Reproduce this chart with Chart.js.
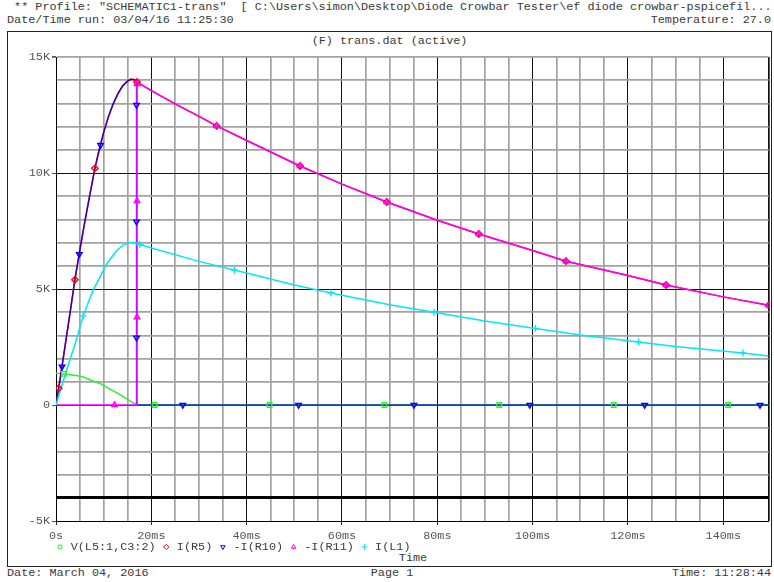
<!DOCTYPE html>
<html>
<head>
<meta charset="utf-8">
<script src="https://cdn.jsdelivr.net/npm/chart.js@4.4.0/dist/chart.umd.min.js"></script>
<style>
  html, body { margin: 0; padding: 0; background: #fff; }
  body { width: 774px; height: 582px; position: relative; overflow: hidden;
         font-family: 'Liberation Mono', 'Courier New', monospace; font-size: 11.8px; color: #3a3a3a; }
  .t { position: absolute; line-height: 13px; white-space: pre; }
  #frame { position: absolute; left: 7px; top: 31px; width: 763px; height: 534px; border: 1px solid #222; }
  #plot { position: absolute; left: 0; top: 0; }
</style>
</head>
<body>
<div class="t" style="left:7px;top:1px"> ** Profile: "SCHEMATIC1-trans"  [ C:\Users\simon\Desktop\Diode Crowbar Tester\ef diode crowbar-pspicefil...</div>
<div class="t" style="left:7px;top:14px">Date/Time run: 03/04/16 11:25:30</div>
<div class="t" style="right:3px;top:14px">Temperature: 27.0</div>
<div id="frame"></div>
<div class="t" style="left:7px;width:765px;top:35px;text-align:center">(F) trans.dat (active)</div>
<div class="t" style="left:56px;width:714px;top:552px;text-align:center">Time</div>
<div class="t" style="left:7px;top:567px">Date: March 04, 2016</div>
<div class="t" style="left:350px;width:84px;top:567px;text-align:center">Page 1</div>
<div class="t" style="right:3px;top:567px">Time: 11:28:44</div>
<canvas id="plot" width="774" height="582"></canvas>
<script>
// trace names, as in the probe legend
const seriesNames = ['V(L5:1,C3:2)', 'I(R5)', '-I(R10)', '-I(R11)', 'I(L1)'];

// time in ms, values in K (thousands)
const greenT = [0, 1.67, 3, 4.5, 5.7, 7, 8, 9.2, 10.5, 11.5, 12.7, 14, 15.5, 16.9, 149.5];
const greenV = [1.37, 1.34, 1.3, 1.26, 1.21, 1.1, 1.02, 0.93, 0.78, 0.66, 0.53, 0.37, 0.18, 0, 0];
const greenMarkT = [1.67, 20.7, 44.8, 68.9, 93, 117, 141];
const greenMarkV = [1.34, 0, 0, 0, 0, 0, 0];

const redT = [0, 0.56, 1, 2, 3, 3.97, 5, 6, 7, 8.16, 9, 10, 11, 12, 13, 14, 15, 15.7, 16.5, 16.9,
  17.0, 20, 25, 30, 33.7, 40, 51.2, 60, 69.4, 80, 88.7, 100, 107, 120, 128, 140, 149.5];
const redV = [0, 0.72, 1.3, 2.68, 4.05, 5.4, 6.68, 7.85, 8.95, 10.2, 10.95, 11.75, 12.42, 12.98, 13.42, 13.76, 13.96, 14.04, 14.02, 13.97,
  13.92, 13.55, 12.98, 12.44, 12.03, 11.4, 10.3, 9.52, 8.75, 7.96, 7.37, 6.66, 6.2, 5.58, 5.17, 4.66, 4.3];
const redMarkT = [0.56, 3.97, 8.16, 17.0, 33.7, 51.2, 69.4, 88.7, 107, 128, 149.5];
const redMarkV = [0.72, 5.4, 10.2, 13.92, 12.03, 10.3, 8.75, 7.37, 6.2, 5.17, 4.3];

const blueT = [0, 0.56, 1, 2, 3, 3.97, 5, 6, 7, 8.16, 9, 10, 11, 12, 13, 14, 15, 15.7, 16.5, 16.9, 16.9, 149.5];
const blueV = [0, 0.72, 1.3, 2.68, 4.05, 5.4, 6.68, 7.85, 8.95, 10.2, 10.95, 11.75, 12.42, 12.98, 13.42, 13.76, 13.96, 14.04, 14.02, 13.97, 0, 0];
const blueMarkT = [1.26, 4.88, 9.35, 16.9, 16.9, 16.9, 26.6, 50.9, 75.1, 99.4, 123.5, 147.7];
const blueMarkV = [1.65, 6.5, 11.2, 12.93, 7.9, 2.9, 0, 0, 0, 0, 0, 0];

const magT = [0, 17.0, 17.0, 20, 25, 30, 33.7, 40, 51.2, 60, 69.4, 80, 88.7, 100, 107, 120, 128, 140, 149.5];
const magV = [0, 0, 13.92, 13.55, 12.98, 12.44, 12.03, 11.4, 10.3, 9.52, 8.75, 7.96, 7.37, 6.66, 6.2, 5.58, 5.17, 4.66, 4.3];
const magMarkT = [12.3, 17.0, 17.0, 17.0, 33.7, 51.2, 69.4, 88.7, 107, 128, 149.5];
const magMarkV = [0, 3.78, 8.8, 13.84, 12.03, 10.3, 8.75, 7.37, 6.2, 5.17, 4.3];

const cyanT = [0, 1, 2, 3, 4, 5.7, 7, 7.8, 9.2, 10.6, 12.7, 14, 15.5, 16.5, 17.6, 20, 30, 37.4, 40, 50, 57.7, 60,
  70, 79.3, 90, 100.6, 110, 122.2, 130, 144.1, 149.5];
const cyanV = [0, 0.68, 1.35, 2.0, 2.62, 3.84, 4.55, 4.95, 5.5, 6.08, 6.65, 6.88, 7.0, 7.0, 6.92, 6.77, 6.19, 5.82, 5.69, 5.17, 4.83, 4.73,
  4.32, 4.0, 3.62, 3.3, 3.02, 2.72, 2.52, 2.24, 2.11];
const cyanMarkT = [5.7, 17.6, 37.4, 57.7, 79.3, 100.6, 122.2, 144.1];
const cyanMarkV = [3.84, 6.92, 5.82, 4.83, 4.0, 3.3, 2.72, 2.24];

const FONT_FAMILY = "'Liberation Mono', 'Courier New', monospace";
const FONT_SIZE = 11.8;
const MINOR = '#a2a2a2';

const pts = (ts, vs) => ts.map((t, i) => ({ x: t, y: vs[i] }));

const traces = [
  { name: seriesNames[0], color: '#30ee30', t: greenT, v: greenV, mt: greenMarkT, mv: greenMarkV, style: 'rect', rot: 0, order: 5 },
  { name: seriesNames[1], color: '#ff0000', t: redT, v: redV, mt: redMarkT, mv: redMarkV, style: 'rectRot', rot: 0, order: 4 },
  { name: seriesNames[2], color: 'rgba(0,0,230,0.8)', mark: '#0000ff', t: blueT, v: blueV, mt: blueMarkT, mv: blueMarkV, style: 'triangle', rot: 180, order: 3 },
  { name: seriesNames[3], color: '#ff00ff', t: magT, v: magV, mt: magMarkT, mv: magMarkV, style: 'triangle', rot: 0, order: 2 },
  { name: seriesNames[4], color: '#00e8f8', t: cyanT, v: cyanV, mt: cyanMarkT, mv: cyanMarkV, style: 'cross', rot: 0, order: 1 }
];

const datasets = [];
traces.forEach(tr => {
  datasets.push({
    label: tr.name,
    data: pts(tr.t, tr.v),
    borderColor: tr.color,
    borderWidth: 1.5,
    pointRadius: 0,
    tension: 0,
    fill: false,
    order: tr.order + 10
  });
  datasets.push({
    label: tr.name + ' markers',
    data: pts(tr.mt, tr.mv),
    showLine: false,
    pointStyle: tr.style,
    rotation: tr.rot,
    pointRadius: tr.style === 'cross' ? 3.5 : 3.2,
    pointBorderWidth: 1.4,
    pointBorderColor: tr.mark || tr.color,
    pointBackgroundColor: 'rgba(0,0,0,0)',
    order: tr.order
  });
});

const legendPlugin = {
  id: 'probeLegend',
  afterDraw(chart) {
    const ctx = chart.ctx;
    ctx.save();
    ctx.font = FONT_SIZE + 'px ' + FONT_FAMILY;
    ctx.textBaseline = 'middle';
    ctx.textAlign = 'left';
    const cw = ctx.measureText('M').width;
    const y = 547;
    let x = 56.5;
    traces.forEach(tr => {
      ctx.strokeStyle = tr.mark || tr.color;
      ctx.fillStyle = 'rgba(0,0,0,0)';
      Chart.helpers.drawPoint(ctx, { pointStyle: tr.style, rotation: tr.rot, radius: tr.style === 'cross' ? 3 : 2.6, borderWidth: 1.4 }, x + cw / 2, y);
      ctx.fillStyle = '#3a3a3a';
      ctx.fillText(tr.name, x + 2 * cw, y);
      x += (tr.name.length + 3) * cw;
    });
    ctx.restore();
  }
};

const tickFont = { family: FONT_FAMILY, size: FONT_SIZE };

new Chart(document.getElementById('plot'), {
  type: 'line',
  data: { datasets: datasets },
  options: {
    responsive: false,
    animation: false,
    layout: { padding: { left: 7, right: 4, top: 57, bottom: 0 } },
    plugins: { legend: { display: false }, tooltip: { enabled: false } },
    scales: {
      x: {
        type: 'linear',
        min: 0,
        max: 149.5,
        afterFit: s => { s.height = 61; },
        ticks: {
          stepSize: 5,
          autoSkip: false,
          maxRotation: 0,
          padding: 4,
          color: '#555',
          font: tickFont,
          callback: v => (v % 20 === 0 ? (v === 0 ? '0s' : v + 'ms') : '')
        },
        grid: {
          color: c => (c.tick && (c.tick.value % 20 === 0 || c.tick.value === 149.5) ? '#111' : MINOR),
          lineWidth: c => (c.tick && c.tick.value % 20 === 0 ? 1 : 1.7),
          tickLength: 4,
          tickColor: c => (c.tick && c.tick.value % 20 === 0 ? '#222' : 'rgba(0,0,0,0)')
        },
        border: { color: '#000', width: 1 }
      },
      y: {
        min: -5,
        max: 15,
        afterFit: s => { s.width = 49; },
        ticks: {
          stepSize: 1,
          autoSkip: false,
          padding: 2,
          color: '#555',
          font: tickFont,
          callback: v => (v % 5 === 0 ? (v === 0 ? '0' : v + 'K') : '')
        },
        grid: {
          color: c => {
            const v = c.tick ? c.tick.value : 0;
            if (v === -4) return '#000';
            if (v % 5 === 0 && v !== 15) return '#111';
            return MINOR;
          },
          lineWidth: c => {
            const v = c.tick ? c.tick.value : 0;
            if (v === -4) return 3;
            return v % 5 === 0 && v !== 15 ? 1 : 1.7;
          },
          tickLength: 4,
          tickColor: c => (c.tick && c.tick.value % 5 === 0 ? '#555' : 'rgba(0,0,0,0)')
        },
        border: { color: '#000', width: 1 }
      }
    }
  },
  plugins: [legendPlugin]
});
</script>
</body>
</html>
